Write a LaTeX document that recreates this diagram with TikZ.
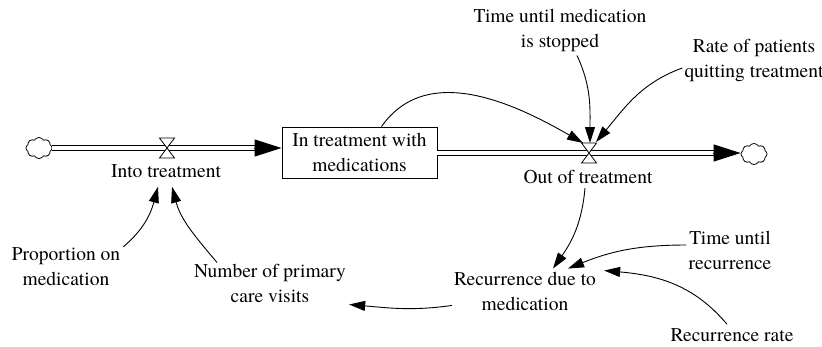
\documentclass[tikz,border=0pt]{standalone}
\usepackage{fontspec}
\setmainfont{texgyretermes}[Extension=.otf, UprightFont=*-regular,
  BoldFont=*-bold, ItalicFont=*-italic, BoldItalicFont=*-bolditalic]
\usetikzlibrary{arrows.meta,shapes.symbols,calc}

\begin{document}
\begin{tikzpicture}[x=1pt,y=1pt,
  lbl/.style={align=center, inner sep=0pt, font=\fontsize{19.5}{25}\selectfont},
  stockbox/.style={draw, line width=0.9pt, minimum width=155pt, minimum height=51pt,
    inner sep=0pt, align=center, font=\fontsize{19.5}{25}\selectfont},
  pipe/.style={draw, line width=1.1pt, double=white, double distance=3.4pt},
  flowtip/.style={line width=1pt, -{Triangle[length=27pt,width=17pt]}},
  link/.style={line width=0.9pt, -{Triangle[length=16pt,width=10pt]}},
  sink/.style={cloud, cloud puffs=8, cloud puff arc=120, aspect=1.2, draw,
    line width=0.8pt, minimum width=26pt, minimum height=21pt, inner sep=0pt},
  flowvalve/.pic={\filldraw[fill=white,line width=0.8pt]
    (-7.5,10) -- (7.5,10) -- (0,0) -- cycle
    (-7.5,-10) -- (7.5,-10) -- (0,0) -- cycle;}
]
\useasboundingbox (0,0) rectangle (822,-346);

% stock, sources and sinks
\node[sink] (srcL) at (39,-148) {};
\node[stockbox] (stock) at (359.5,-152.5) {In treatment with\\medications};
\node[sink] (snkR) at (754,-154) {};
\coordinate (vin) at (167,-148);
\coordinate (vout) at (589,-153);

% inflow pipe
\draw[pipe] (srcL.east |- vin) -- ($(stock.west |- vin)+(-26,0)$);
\draw[flowtip] ($(stock.west |- vin)+(-28,0)$) -- (stock.west |- vin);
% outflow pipe
\draw[pipe] (stock.east |- vout) -- ($(snkR.west |- vout)+(-26,0)$);
\draw[flowtip] ($(snkR.west |- vout)+(-28,0)$) -- (snkR.west |- vout);

\pic at (vin) {flowvalve};
\pic at (vout) {flowvalve};

% variable names
\node[lbl] (inlbl) at (166,-171) {Into treatment};
\node[lbl] (outlbl) at (588,-177) {Out of treatment};
\node[lbl] (tstop) at (560,-30) {Time until medication\\is stopped};
\node[lbl] (rquit) at (754,-60) {Rate of patients\\quitting treatment};
\node[lbl] (recur) at (525,-291) {Recurrence due to\\medication};
\node[lbl] (tuntil) at (730,-250) {Time until\\recurrence};
\node[lbl] (rrate) at (732,-335) {Recurrence rate};
\node[lbl] (visits) at (270,-283) {Number of primary\\care visits};
\node[lbl] (prop) at (66,-267) {Proportion on\\medication};

% causal links
\draw[link] ([xshift=22pt]stock.north) to[out=55,in=150] ($(vout)+(-6,10)$);
\draw[link] ($(tstop.south)+(17,-4)$) to[out=-65,in=90] ($(vout)+(1,10)$);
\draw[link] ($(rquit.west)+(-2,-8)$) to[out=200,in=50] ($(vout)+(7,11)$);
\draw[link] ($(outlbl.south)+(-3,-4)$) to[out=-95,in=55] ($(recur.north)+(28,3)$);
\draw[link] ($(tuntil.west)+(-2,5)$) to[out=180,in=22] ($(recur.north)+(43,3)$);
\draw[link] ($(rrate.north)+(-5,4)$) to[out=130,in=-5] ($(recur.north east)+(8,1)$);
\draw[link] ($(recur.south west)+(-2,5)$) to[out=188,in=-5] ($(visits.south east)+(3,-2)$);
\draw[link] ($(prop.north east)+(3,1)$) to[out=40,in=-105] ($(inlbl.south)+(-8,-9)$);
\draw[link] ($(visits.north)+(-53,1)$) to[out=130,in=-75] ($(inlbl.south)+(6,-9)$);
\end{tikzpicture}
\end{document}
